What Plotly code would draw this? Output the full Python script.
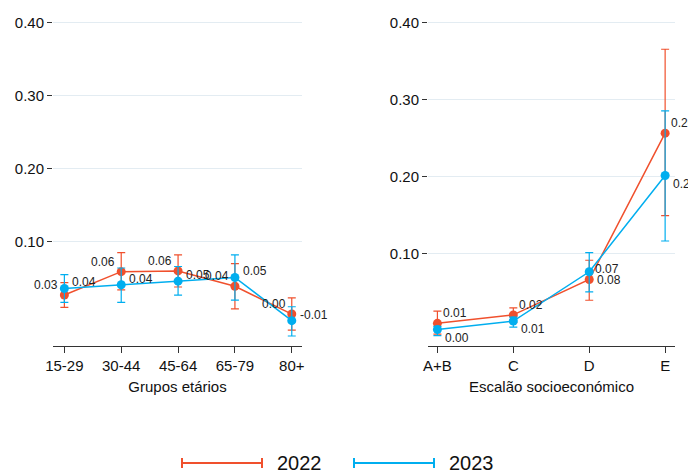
import plotly.graph_objects as go

# dados
grupos = ["15-29", "30-44", "45-64", "65-79", "80+"]
idade_2022 = [0.027, 0.059, 0.060, 0.039, 0.001]
idade_2022_hi = [0.044, 0.085, 0.082, 0.070, 0.023]
idade_2022_lo = [0.010, 0.034, 0.038, 0.008, -0.021]
idade_2023 = [0.036, 0.041, 0.046, 0.051, -0.008]
idade_2023_hi = [0.055, 0.064, 0.066, 0.082, 0.011]
idade_2023_lo = [0.017, 0.017, 0.027, 0.020, -0.029]

escaloes = ["A+B", "C", "D", "E"]
esc_2022 = [0.009, 0.020, 0.066, 0.256]
esc_2022_hi = [0.025, 0.029, 0.091, 0.365]
esc_2022_lo = [-0.005, 0.010, 0.039, 0.149]
esc_2023 = [0.001, 0.012, 0.076, 0.201]
esc_2023_hi = [0.005, 0.017, 0.101, 0.285]
esc_2023_lo = [-0.007, 0.004, 0.050, 0.116]

anos = ["2022", "2023"]

RED = "#F0502D"
BLUE = "#00AEEF"
FONT = "Liberation Sans"

# a página tem 8px de margem no body
OFF = 8
W, H = 696, 473 - OFF
L, R, T, B = 53 - OFF, 21 + OFF, 15 - OFF, 127
PW, PH = W - L - R, H - T - B


def px(x):
    return (x - OFF - L) / PW


def py(y):
    return 1 - (y - OFF - T) / PH


def serie(x, y, hi, lo, cor, xa, ya):
    return go.Scatter(
        x=x, y=y, mode="lines+markers",
        line=dict(color=cor, width=1.5),
        marker=dict(color=cor, size=9),
        error_y=dict(type="data", symmetric=False,
                     array=[h - v for h, v in zip(hi, y)],
                     arrayminus=[v - l for v, l in zip(y, lo)],
                     color=cor, thickness=1.2, width=4),
        xaxis=xa, yaxis=ya, showlegend=False, cliponaxis=False)


def rotulos(x, y, xa, ya, anchor, dx, dy):
    for xi, yi in zip(x, y):
        fig.add_annotation(x=xi, y=yi, xref=xa, yref=ya, text=f"{yi:.2f}",
                           showarrow=False, xanchor=anchor, yanchor="middle",
                           xshift=dx, yshift=dy,
                           font=dict(size=12, color="#222", family=FONT))


fig = go.Figure()
fig.add_trace(serie(grupos, idade_2022, idade_2022_hi, idade_2022_lo, RED, "x", "y"))
fig.add_trace(serie(grupos, idade_2023, idade_2023_hi, idade_2023_lo, BLUE, "x", "y"))
fig.add_trace(serie(escaloes, esc_2022, esc_2022_hi, esc_2022_lo, RED, "x2", "y2"))
fig.add_trace(serie(escaloes, esc_2023, esc_2023_hi, esc_2023_lo, BLUE, "x2", "y2"))

rotulos(grupos, idade_2022, "x", "y", "right", -4, 10)
rotulos(grupos, idade_2023, "x", "y", "left", 6, 6)
rotulos(escaloes, esc_2022, "x2", "y2", "left", 4, 10)
rotulos(escaloes, esc_2023, "x2", "y2", "left", 6, -8)

xstyle = dict(showline=True, linecolor="#333", linewidth=1, ticks="outside", ticklen=6,
              tickcolor="#333", showgrid=False, tickfont=dict(size=15, color="#111"),
              title_font=dict(size=15, color="#111"), title_standoff=8, automargin=False)
ystyle = dict(showline=False, ticks="outside", ticklen=5, tickcolor="#333",
              tickvals=[0.1, 0.2, 0.3, 0.4], tickformat=".2f", gridcolor="#E3ECF2",
              gridwidth=1, zeroline=False, tickfont=dict(size=15, color="#111"),
              automargin=False)

fig.update_layout(
    width=W, height=H,
    margin=dict(l=L, r=R, t=T, b=B, autoexpand=False),
    paper_bgcolor="white", plot_bgcolor="white",
    font=dict(family=FONT, color="#111"),
    xaxis=dict(domain=[0, px(302)], range=[-0.2, 4.18],
               title_text="Grupos etários", anchor="y", **xstyle),
    yaxis=dict(domain=[0, 1], range=[-0.0427, 0.410], anchor="x", **ystyle),
    xaxis2=dict(domain=[px(428), 1], range=[-0.124, 3.13],
                title_text="Escalão socioeconómico", anchor="y2", **xstyle),
    yaxis2=dict(domain=[0, 1], range=[-0.0204, 0.4095], anchor="x2", **ystyle),
)

# legenda desenhada à mão (linha com barras nas pontas)
legenda = [(182, 262, 275, RED), (354, 434, 447, BLUE)]
for (x0, x1, xt, cor), ano in zip(legenda, anos):
    yl = py(463)
    fig.add_shape(type="line", xref="paper", yref="paper", x0=px(x0), x1=px(x1),
                  y0=yl, y1=yl, line=dict(color=cor, width=2))
    for xe in (x0, x1):
        fig.add_shape(type="line", xref="paper", yref="paper", x0=px(xe), x1=px(xe),
                      y0=py(468), y1=py(458), line=dict(color=cor, width=2))
    fig.add_annotation(text=ano, xref="paper", yref="paper", x=px(xt), y=yl,
                       xanchor="left", yanchor="middle", showarrow=False,
                       font=dict(size=20, color="#111", family=FONT))

fig.write_html("out.html")
